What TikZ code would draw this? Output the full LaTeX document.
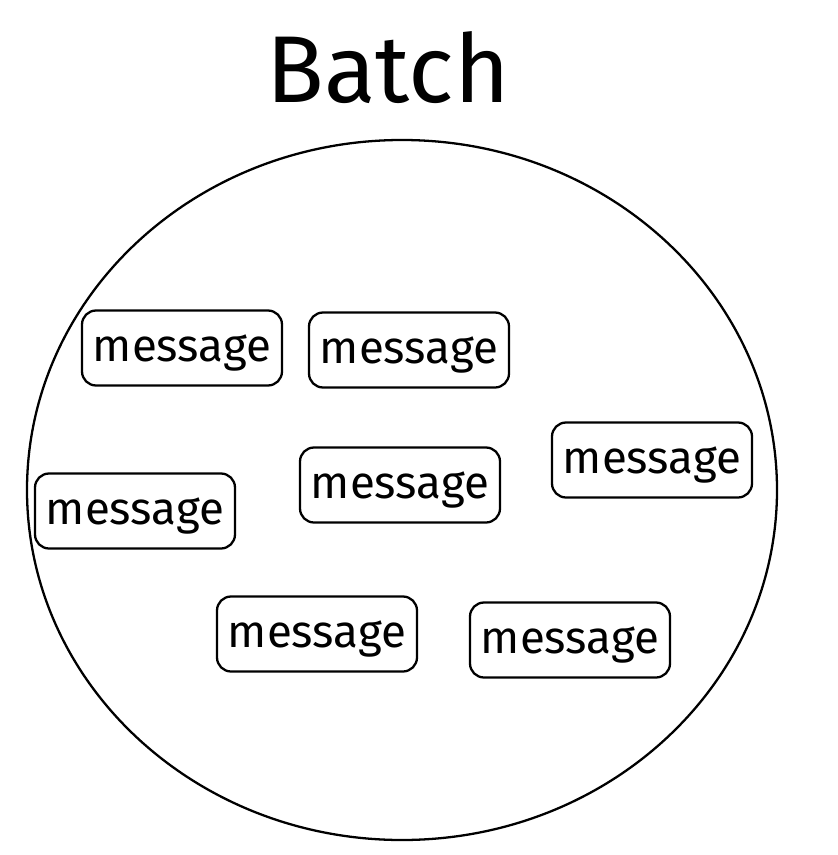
\documentclass[tikz,border=0pt]{standalone}
\usepackage{fontspec}
\setmainfont{Fira Sans}
\usepackage{tikz}

\begin{document}
\begin{tikzpicture}[x=0.02cm,y=-0.02cm]
\tikzstyle{msg}=[draw=black,line width=1.3pt,rounded corners=8pt,minimum width=200*0.02cm,minimum height=75*0.02cm,inner sep=0pt,text height=15pt,text depth=0pt,font=\fontsize{26}{30}\selectfont]
\useasboundingbox (0,0) rectangle (838,855);
\node (title) at (388,68) {\fontsize{54}{60}\selectfont Batch};
\draw [black,line width=1.3pt] (402,490) ellipse (375 and 350);
\node [msg] (m1) at (182,348) {message};
\node [msg] (m2) at (409,350) {message};
\node [msg] (m3) at (652,460) {message};
\node [msg] (m4) at (400,485) {message};
\node [msg] (m5) at (135,511) {message};
\node [msg] (m6) at (317,634) {message};
\node [msg] (m7) at (570,640) {message};
\end{tikzpicture}
\end{document}
